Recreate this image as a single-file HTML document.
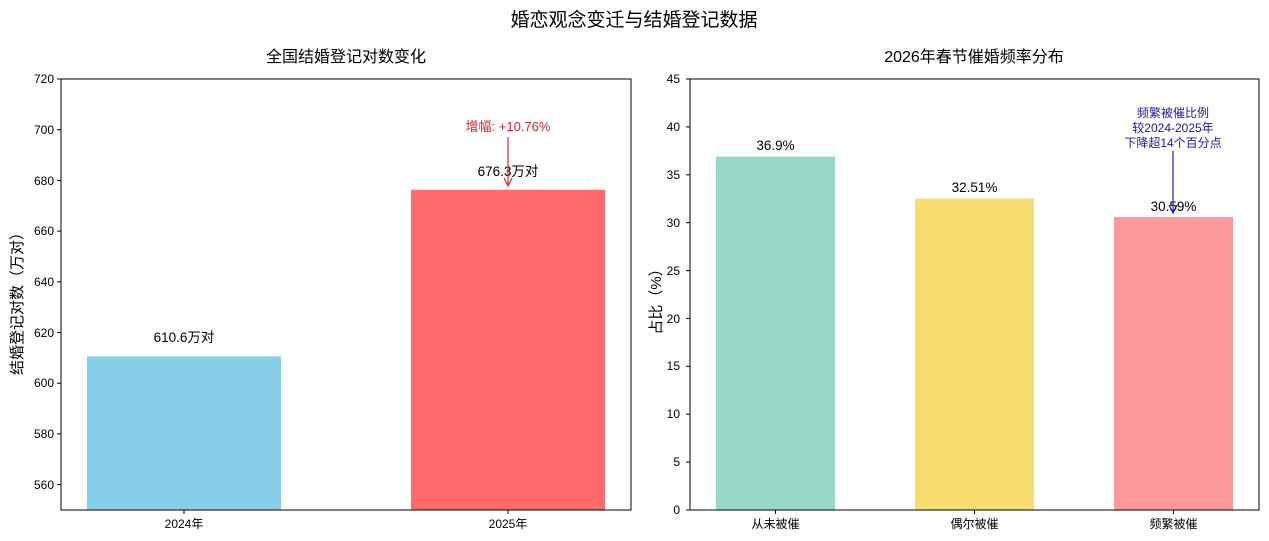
<!DOCTYPE html>
<html><head><meta charset="utf-8"><style>
html,body{margin:0;padding:0;background:#fff;}
svg{display:block;font-family:"Liberation Sans","Noto Sans CJK SC",sans-serif;}
</style></head><body>
<svg width="1269" height="541" viewBox="0 0 1269 541" xmlns="http://www.w3.org/2000/svg">
<rect width="1269" height="541" fill="#fff"/>
<text x="634" y="26" font-size="19" text-anchor="middle" fill="#000">婚恋观念变迁与结婚登记数据</text>

<!-- Left chart -->
<text x="346" y="62" font-size="16" text-anchor="middle">全国结婚登记对数变化</text>
<rect x="87" y="356.4" width="194" height="153.6" fill="#87CEEB"/>
<rect x="411" y="189.8" width="194" height="320.2" fill="#FF6B6B"/>
<rect x="61" y="79" width="570" height="431" fill="none" stroke="#000" stroke-width="1"/>
<g font-size="12" text-anchor="end" fill="#000">
<line x1="57" y1="484.6" x2="61" y2="484.6" stroke="#000"/><text x="54" y="489">560</text>
<line x1="57" y1="433.9" x2="61" y2="433.9" stroke="#000"/><text x="54" y="438">580</text>
<line x1="57" y1="383.2" x2="61" y2="383.2" stroke="#000"/><text x="54" y="387">600</text>
<line x1="57" y1="332.5" x2="61" y2="332.5" stroke="#000"/><text x="54" y="337">620</text>
<line x1="57" y1="281.8" x2="61" y2="281.8" stroke="#000"/><text x="54" y="286">640</text>
<line x1="57" y1="231.1" x2="61" y2="231.1" stroke="#000"/><text x="54" y="235">660</text>
<line x1="57" y1="180.4" x2="61" y2="180.4" stroke="#000"/><text x="54" y="185">680</text>
<line x1="57" y1="129.7" x2="61" y2="129.7" stroke="#000"/><text x="54" y="134">700</text>
<line x1="57" y1="79" x2="61" y2="79" stroke="#000"/><text x="54" y="83">720</text>
</g>
<g font-size="12" text-anchor="middle">
<line x1="184" y1="510" x2="184" y2="514" stroke="#000"/><text x="184" y="528">2024年</text>
<line x1="508" y1="510" x2="508" y2="514" stroke="#000"/><text x="508" y="528">2025年</text>
</g>
<text transform="translate(22,300) rotate(-90)" font-size="15" text-anchor="middle">结婚登记对数（万对）</text>
<text x="184" y="342" font-size="13.5" text-anchor="middle">610.6万对</text>
<text x="508" y="176" font-size="13.5" text-anchor="middle">676.3万对</text>
<text x="508" y="131" font-size="13" text-anchor="middle" fill="#d62728">增幅: +10.76%</text>
<line x1="508" y1="137" x2="508" y2="184" stroke="#d62728" stroke-width="1.2"/>
<path d="M504,178 L508,186 L512,178" fill="none" stroke="#d62728" stroke-width="1.2"/>

<!-- Right chart -->
<text x="974" y="62" font-size="16" text-anchor="middle">2026年春节催婚频率分布</text>
<rect x="716" y="156.6" width="119" height="353.4" fill="#98D8C8"/>
<rect x="915" y="198.6" width="119" height="311.4" fill="#F7DC6F"/>
<rect x="1114" y="217" width="119" height="293" fill="#FF9999"/>
<rect x="690" y="79" width="569" height="431" fill="none" stroke="#000" stroke-width="1"/>
<g font-size="12" text-anchor="end">
<line x1="686" y1="510" x2="690" y2="510" stroke="#000"/><text x="680" y="514">0</text>
<line x1="686" y1="462.1" x2="690" y2="462.1" stroke="#000"/><text x="680" y="466">5</text>
<line x1="686" y1="414.2" x2="690" y2="414.2" stroke="#000"/><text x="680" y="418">10</text>
<line x1="686" y1="366.3" x2="690" y2="366.3" stroke="#000"/><text x="680" y="370">15</text>
<line x1="686" y1="318.4" x2="690" y2="318.4" stroke="#000"/><text x="680" y="323">20</text>
<line x1="686" y1="270.6" x2="690" y2="270.6" stroke="#000"/><text x="680" y="275">25</text>
<line x1="686" y1="222.7" x2="690" y2="222.7" stroke="#000"/><text x="680" y="227">30</text>
<line x1="686" y1="174.8" x2="690" y2="174.8" stroke="#000"/><text x="680" y="179">35</text>
<line x1="686" y1="126.9" x2="690" y2="126.9" stroke="#000"/><text x="680" y="131">40</text>
<line x1="686" y1="79" x2="690" y2="79" stroke="#000"/><text x="680" y="83">45</text>
</g>
<g font-size="12" text-anchor="middle">
<line x1="775.5" y1="510" x2="775.5" y2="514" stroke="#000"/><text x="775.5" y="528">从未被催</text>
<line x1="974.5" y1="510" x2="974.5" y2="514" stroke="#000"/><text x="974.5" y="528">偶尔被催</text>
<line x1="1173.5" y1="510" x2="1173.5" y2="514" stroke="#000"/><text x="1173.5" y="528">频繁被催</text>
</g>
<text transform="translate(661,298) rotate(-90)" font-size="15" text-anchor="middle">占比（%）</text>
<text x="775.5" y="150" font-size="13.5" text-anchor="middle">36.9%</text>
<text x="974.5" y="192" font-size="13.5" text-anchor="middle">32.51%</text>
<text x="1173.5" y="211" font-size="13.5" text-anchor="middle">30.59%</text>
<g font-size="12" text-anchor="middle" fill="#1a1aa6">
<text x="1173" y="117">频繁被催比例</text>
<text x="1173" y="132">较2024-2025年</text>
<text x="1173" y="147">下降超14个百分点</text>
</g>
<line x1="1173" y1="151" x2="1173" y2="211" stroke="#1a1aa6" stroke-width="1.2"/>
<path d="M1169,205 L1173,213 L1177,205" fill="none" stroke="#1a1aa6" stroke-width="1.2"/>
</svg>
</body></html>
